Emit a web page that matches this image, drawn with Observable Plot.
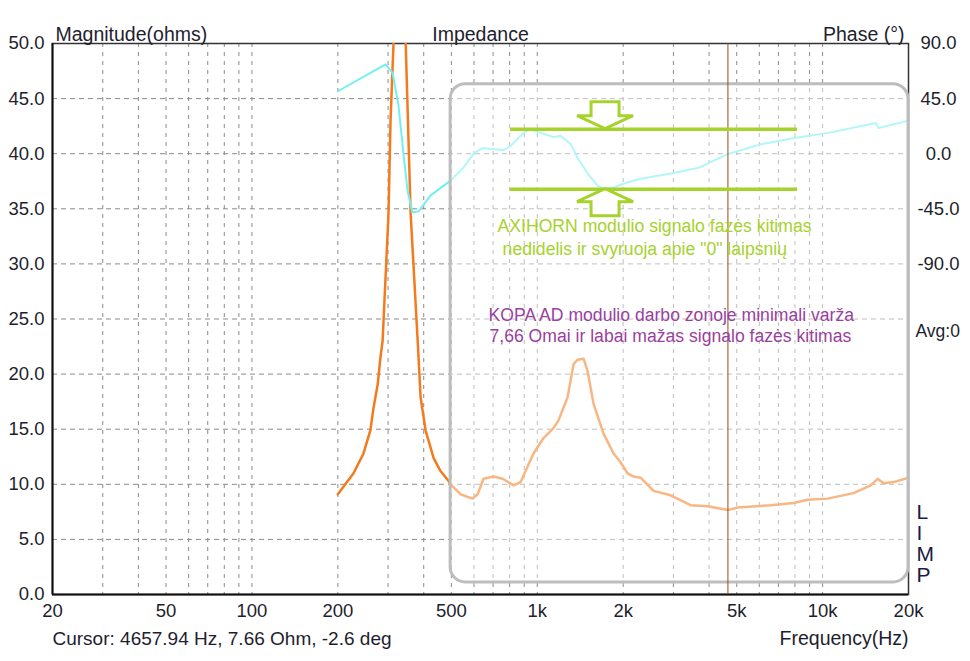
<!DOCTYPE html>
<html><head><meta charset="utf-8">
<script src="https://cdn.jsdelivr.net/npm/d3@7"></script>
<script src="https://cdn.jsdelivr.net/npm/@observablehq/plot@0.6"></script>
<style>body{margin:0;background:#fff} svg{display:block}</style>
</head><body><div id="chart"></div>
<script>
// Impedance magnitude (ohms) vs frequency (Hz)
const impFreq = [200, 227, 246, 260, 267, 276, 282, 287, 301, 306, 314, 329, 345, 354, 360, 381, 390, 406, 433, 458, 489, 497, 538, 593, 618, 648, 703, 756, 826, 874, 970, 1052, 1140, 1187, 1277, 1340, 1384, 1453, 1500, 1575, 1707, 1851, 1958, 2072, 2176, 2302, 2556, 2932, 3446, 3952, 4658, 5036, 6572, 7914, 8858, 10410, 12840, 14734, 15590, 16360, 17736, 20000];
const impMag  = [9.1, 11.0, 12.8, 14.9, 17.0, 19.1, 21.5, 23.0, 34.5, 43.0, 50.5, 80, 51, 41.0, 34.5, 23.0, 17.9, 14.9, 12.4, 11.2, 10.3, 10.0, 9.1, 8.7, 9.1, 10.5, 10.7, 10.5, 9.9, 10.2, 12.8, 14.2, 15.1, 15.8, 17.9, 20.9, 21.3, 21.4, 20.3, 17.3, 14.6, 12.8, 12.0, 11.0, 10.7, 10.6, 9.4, 9.0, 8.1, 8.0, 7.66, 7.9, 8.1, 8.3, 8.6, 8.7, 9.2, 9.9, 10.5, 10.1, 10.2, 10.6];
// Phase (degrees) vs frequency (Hz)
const phaseFreq = [200, 294, 311, 326, 340, 351, 365, 384, 423, 497, 551, 598, 643, 686, 762, 806, 895, 947, 1027, 1140, 1206, 1308, 1384, 1500, 1627, 1707, 1851, 2006, 2302, 2978, 3676, 4684, 6162, 8044, 10496, 15338, 15714, 20000];
const phaseDeg  = [51, 73, 66, 40, -1, -30, -48, -47, -34, -22, -11.5, 0, 4.6, 3.8, 3, 6.3, 17, 20, 17, 13.5, 14.6, 8, -3.3, -16, -26, -28.5, -27.5, -24.5, -20.5, -16, -11.5, 0, 8, 13, 17, 25, 21, 27];

const xTicks = [20, 50, 100, 200, 500, 1000, 2000, 5000, 10000, 20000];
const xTickLabels = ["20", "50", "100", "200", "500", "1k", "2k", "5k", "10k", "20k"];
const xGrid = [30,40,50,60,70,80,90,100,200,300,400,500,600,700,800,900,1000,2000,3000,4000,5000,6000,7000,8000,9000,10000];
const magTicks = [0, 5, 10, 15, 20, 25, 30, 35, 40, 45, 50];
const phaseTicks = [90, 45, 0, -45, -90];
const cursorFreq = 4657.94;
const cursorText = "Cursor: 4657.94 Hz, 7.66 Ohm, -2.6 deg";
const greenLevels = [20, -29];          // phase, degrees
const greenSpan = [806, 8174];          // Hz
const arrowFreq = 1735;                 // Hz
const greenNotes = ["AXIHORN modulio signalo fazės kitimas", "nedidelis ir svyruoja apie \"0\" laipsnių"];
const purpleNotes = ["KOPA AD modulio darbo zonoje minimali varža", "7,66 Omai ir labai mažas signalo fazės kitimas"];
const boxFreq = [497, 20000];
const boxMag = [1.1, 46.3];
const sideLetters = ["L", "I", "M", "P"];

const ph2m = p => 40 + p / 9;   // phase axis mapped onto magnitude axis (90° = 50, -90° = 30)
const fmt1 = v => v.toFixed(1);
const imp = impFreq.map((f, i) => ({f, m: impMag[i]}));
const phase = phaseFreq.map((f, i) => ({f, p: phaseDeg[i]}));

const FONT = "'Liberation Sans', Arial, sans-serif";
const TXT = "#1e1e2e";
const GREEN = "#a6d22c";
const PURPLE = "#9a3f9e";

const chart = Plot.plot({
  width: 970, height: 661,
  marginLeft: 52, marginRight: 62, marginTop: 43, marginBottom: 67,
  style: {fontFamily: FONT, fontSize: "19.5px", background: "#fff", color: TXT},
  x: {type: "log", domain: [20, 20000], axis: null},
  y: {domain: [0, 50], axis: null},
  marks: [
    Plot.gridX(xGrid, {stroke: "#8a8a8a", strokeOpacity: 1, strokeDasharray: "4,5"}),
    Plot.gridY(magTicks.slice(1, -1), {stroke: "#8a8a8a", strokeOpacity: 1, strokeDasharray: "5,4"}),
    Plot.frame({stroke: "#333", strokeWidth: 1.5}),
    Plot.ruleX([20], {stroke: "#111", strokeWidth: 2}),
    Plot.ruleY([0], {stroke: "#111", strokeWidth: 2}),
    Plot.line(imp, {x: "f", y: "m", stroke: "#f47a1c", strokeWidth: 2.5, clip: true}),
    Plot.line(phase, {x: "f", y: d => ph2m(d.p), stroke: "#72f0f0", strokeWidth: 2}),
    Plot.rect([0], {x1: boxFreq[0], x2: boxFreq[1], y1: boxMag[0], y2: boxMag[1], rx: 15, fill: "#fff", fillOpacity: 0.45, stroke: "#bdbdbd", strokeWidth: 3}),
    Plot.ruleX([cursorFreq], {stroke: "#9c4a16", strokeWidth: 1}),
    Plot.ruleY(greenLevels, {x1: greenSpan[0], x2: greenSpan[1], y: d => ph2m(d), stroke: GREEN, strokeWidth: 3.5}),
    Plot.text([greenNotes[0]], {x: 726, y: 33.45, textAnchor: "start", fill: GREEN, fontSize: 17.6}),
    Plot.text([greenNotes[1]], {x: 756, y: 31.36, textAnchor: "start", fill: GREEN, fontSize: 17.6}),
    Plot.text([purpleNotes[0]], {x: 675, y: 25.29, textAnchor: "start", fill: PURPLE, fontSize: 17.6}),
    Plot.text([purpleNotes[1]], {x: 680, y: 23.38, textAnchor: "start", fill: PURPLE, fontSize: 17.6}),
    // axes labels
    Plot.text(magTicks, {y: d => d, frameAnchor: "left", textAnchor: "end", dx: -8, text: fmt1, fill: TXT, fontSize: 18.5}),
    Plot.text(phaseTicks, {y: d => ph2m(d), frameAnchor: "right", textAnchor: "middle", dx: 30, text: fmt1, fill: TXT, fontSize: 18.5}),
    Plot.text(xTicks, {x: d => d, frameAnchor: "bottom", dy: 22, text: (d, i) => xTickLabels[i], fill: TXT, fontSize: 18.5}),
    Plot.text(["Avg:0"], {y: 23.9, frameAnchor: "right", textAnchor: "start", dx: 7, fill: TXT, fontSize: 17.5}),
    Plot.text(sideLetters, {y: (d, i) => 7.45 - i * 1.9, frameAnchor: "right", textAnchor: "start", dx: 8, fill: "#1a1a48", fontSize: 21}),
    Plot.text(["Magnitude(ohms)"], {frameAnchor: "top-left", textAnchor: "start", dx: 3, dy: -16, fill: TXT}),
    Plot.text(["Impedance"], {frameAnchor: "top", dy: -16, fill: TXT}),
    Plot.text(["Phase (°)"], {frameAnchor: "top-right", textAnchor: "end", dx: -4, dy: -16, fill: TXT}),
    Plot.text([cursorText], {frameAnchor: "bottom-left", textAnchor: "start", dy: 50, fill: TXT, fontSize: 19}),
    Plot.text(["Frequency(Hz)"], {frameAnchor: "bottom-right", textAnchor: "end", dy: 50, fill: TXT})
  ]
});
document.getElementById("chart").appendChild(chart);

// outlined arrows pointing at the two green level lines
const sx = chart.scale("x"), sy = chart.scale("y");
const ax = sx.apply(arrowFreq);
const svg = d3.select(chart);
const shape = "M-14,-27L14,-27L14,-13L28,-13L0,0L-28,-13L-14,-13Z";
greenLevels.forEach((lv, i) => {
  const ty = sy.apply(ph2m(lv));
  svg.append("path")
    .attr("d", shape)
    .attr("transform", `translate(${ax},${ty})` + (i === 1 ? " scale(1,-1)" : ""))
    .attr("fill", "#fff")
    .attr("stroke", GREEN)
    .attr("stroke-width", 3)
    .attr("stroke-linejoin", "miter");
});
</script>
</body></html>
